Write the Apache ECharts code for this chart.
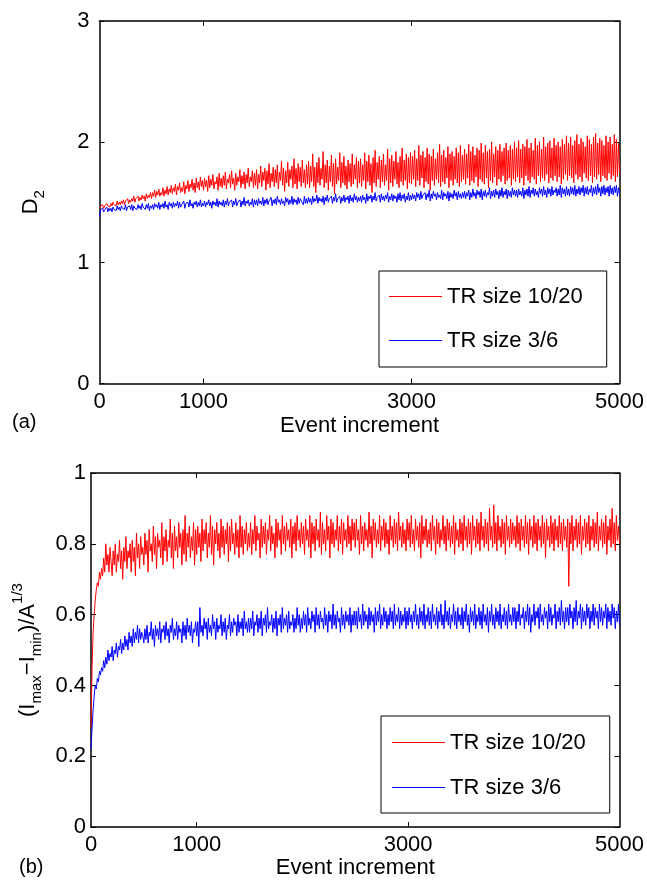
<!DOCTYPE html>
<html><head><meta charset="utf-8">
<script src="https://cdn.jsdelivr.net/npm/echarts@6/dist/echarts.min.js"></script>
<style>html,body{margin:0;padding:0;background:#fff}#c{width:647px;height:880px}</style>
</head><body><div id="c"></div>
<script>
// ---- data (one sample every STEP events) ----
const STEP = 10;
const xLabelValues = [0, 1000, 3000, 5000];
const xTickValues = [1000, 3000];
const seriesNames = ['TR size 10/20', 'TR size 3/6'];
const xAxisTitle = 'Event increment';

// panel (a): D2
const aRed = [
1.45,1.47,1.46,1.48,1.45,1.47,1.46,1.49,1.47,1.48,
1.46,1.49,1.47,1.50,1.48,1.49,1.47,1.51,1.48,1.50,
1.48,1.51,1.49,1.52,1.48,1.51,1.50,1.53,1.49,1.52,
1.50,1.53,1.51,1.55,1.50,1.53,1.52,1.55,1.51,1.54,
1.52,1.56,1.53,1.55,1.51,1.57,1.53,1.56,1.54,1.58,
1.53,1.58,1.55,1.60,1.54,1.59,1.56,1.61,1.55,1.58,
1.56,1.62,1.55,1.60,1.57,1.63,1.56,1.61,1.58,1.64,
1.57,1.62,1.59,1.65,1.56,1.63,1.60,1.66,1.58,1.62,
1.59,1.67,1.57,1.64,1.61,1.68,1.59,1.65,1.62,1.69,
1.60,1.66,1.58,1.70,1.62,1.67,1.60,1.71,1.63,1.68,
1.60,1.70,1.63,1.68,1.59,1.72,1.62,1.69,1.64,1.73,
1.61,1.67,1.65,1.71,1.60,1.74,1.63,1.70,1.62,1.72,
1.64,1.75,1.61,1.69,1.66,1.73,1.62,1.76,1.65,1.70,
1.60,1.74,1.64,1.71,1.67,1.77,1.62,1.72,1.65,1.75,
1.61,1.73,1.66,1.78,1.63,1.71,1.67,1.76,1.62,1.74,
1.64,1.77,1.61,1.73,1.66,1.80,1.63,1.75,1.68,1.78,
1.60,1.76,1.65,1.82,1.62,1.74,1.67,1.79,1.63,1.77,
1.66,1.81,1.61,1.75,1.68,1.84,1.64,1.78,1.59,1.76,
1.66,1.83,1.63,1.77,1.69,1.80,1.62,1.86,1.65,1.78,
1.61,1.82,1.67,1.79,1.63,1.85,1.66,1.77,1.62,1.81,
1.65,1.84,1.62,1.80,1.67,1.90,1.63,1.79,1.58,1.83,
1.66,1.87,1.64,1.78,1.69,1.92,1.62,1.81,1.66,1.85,
1.60,1.80,1.67,1.89,1.63,1.82,1.57,1.86,1.65,1.79,
1.68,1.91,1.62,1.83,1.66,1.88,1.64,1.80,1.61,1.85,
1.67,1.82,1.63,1.90,1.65,1.81,1.69,1.87,1.62,1.84,
1.66,1.86,1.63,1.81,1.68,1.91,1.61,1.84,1.67,1.89,
1.64,1.82,1.58,1.87,1.66,1.93,1.63,1.83,1.69,1.88,
1.62,1.85,1.67,1.90,1.64,1.81,1.68,1.94,1.60,1.86,
1.66,1.89,1.63,1.84,1.69,1.92,1.65,1.83,1.62,1.88,
1.67,1.95,1.64,1.85,1.68,1.90,1.61,1.87,1.66,1.91,
1.65,1.88,1.69,1.93,1.63,1.86,1.68,1.97,1.64,1.89,
1.70,1.92,1.62,1.87,1.67,1.95,1.65,1.90,1.60,1.88,
1.68,1.94,1.64,1.86,1.69,1.91,1.66,1.98,1.63,1.89,
1.67,1.93,1.65,1.87,1.70,1.96,1.62,1.90,1.68,1.92,
1.64,1.88,1.69,1.95,1.66,1.91,1.63,1.97,1.67,1.89,
1.69,1.94,1.65,1.90,1.70,1.98,1.64,1.92,1.68,1.96,
1.66,1.89,1.71,1.95,1.63,1.93,1.69,1.99,1.67,1.91,
1.65,1.97,1.70,1.92,1.62,1.94,1.68,2.00,1.66,1.90,
1.71,1.96,1.64,1.93,1.69,1.98,1.67,1.92,1.72,1.95,
1.65,1.99,1.68,1.93,1.70,1.97,1.64,1.94,1.69,2.00,
1.67,1.95,1.71,2.01,1.66,1.94,1.70,1.98,1.64,1.96,
1.72,2.02,1.68,1.95,1.66,1.99,1.71,1.93,1.69,2.03,
1.65,1.97,1.72,2.00,1.67,1.94,1.70,2.04,1.68,1.96,
1.73,1.99,1.66,2.01,1.70,1.95,1.68,2.03,1.72,1.97,
1.67,2.00,1.71,1.96,1.65,2.02,1.69,1.98,1.73,2.05,
1.68,1.99,1.72,2.04,1.70,1.97,1.66,2.01,1.73,2.06,
1.69,1.98,1.71,2.03,1.67,2.00,1.74,1.96,1.70,2.05,
1.68,2.02,1.72,1.98,1.66,2.04,1.71,2.07,1.69,1.99,
1.73,2.03,1.67,2.01,1.72,1.97,1.70,2.05,1.68,2.00,
1.74,2.04,1.69,1.98,1.72,2.06,1.67,2.02,1.71,1.99,1.75
];
const aBlue = [
1.38,1.44,1.43,1.45,1.42,1.44,1.43,1.46,1.42,1.45,
1.43,1.45,1.42,1.46,1.44,1.45,1.43,1.47,1.44,1.46,
1.43,1.47,1.45,1.46,1.44,1.48,1.43,1.46,1.45,1.47,
1.44,1.48,1.43,1.47,1.45,1.46,1.44,1.48,1.45,1.47,
1.44,1.49,1.46,1.47,1.44,1.48,1.45,1.49,1.43,1.47,
1.45,1.48,1.44,1.49,1.46,1.48,1.45,1.50,1.44,1.48,
1.46,1.49,1.45,1.51,1.46,1.48,1.44,1.50,1.47,1.49,
1.45,1.50,1.46,1.49,1.47,1.51,1.45,1.50,1.46,1.48,
1.47,1.51,1.45,1.49,1.48,1.50,1.46,1.52,1.47,1.49,
1.45,1.50,1.48,1.51,1.46,1.50,1.47,1.52,1.46,1.49,
1.47,1.51,1.46,1.50,1.48,1.52,1.47,1.50,1.45,1.51,
1.48,1.50,1.47,1.53,1.46,1.51,1.48,1.50,1.47,1.52,
1.46,1.51,1.48,1.53,1.47,1.50,1.49,1.52,1.46,1.51,
1.48,1.53,1.47,1.50,1.49,1.52,1.46,1.51,1.48,1.54,
1.47,1.51,1.49,1.52,1.47,1.50,1.48,1.53,1.46,1.52,
1.48,1.52,1.47,1.53,1.49,1.51,1.48,1.54,1.47,1.52,
1.49,1.53,1.48,1.51,1.50,1.54,1.47,1.52,1.49,1.53,
1.48,1.55,1.50,1.52,1.48,1.53,1.49,1.51,1.47,1.54,
1.50,1.53,1.48,1.52,1.49,1.55,1.48,1.53,1.50,1.52,
1.48,1.54,1.49,1.53,1.51,1.52,1.48,1.55,1.49,1.53,
1.49,1.54,1.50,1.53,1.48,1.55,1.50,1.53,1.51,1.56,
1.49,1.54,1.51,1.53,1.50,1.55,1.48,1.54,1.51,1.56,
1.50,1.53,1.52,1.55,1.49,1.54,1.51,1.57,1.50,1.53,
1.52,1.55,1.49,1.54,1.51,1.56,1.50,1.54,1.52,1.55,
1.49,1.56,1.51,1.54,1.50,1.57,1.52,1.55,1.50,1.54,
1.51,1.55,1.50,1.56,1.52,1.54,1.49,1.57,1.51,1.55,
1.53,1.56,1.50,1.55,1.52,1.58,1.51,1.54,1.53,1.56,
1.50,1.57,1.52,1.55,1.51,1.56,1.53,1.58,1.50,1.55,
1.52,1.57,1.51,1.56,1.53,1.55,1.50,1.57,1.52,1.58,
1.51,1.56,1.53,1.57,1.50,1.55,1.52,1.58,1.51,1.56,
1.52,1.57,1.53,1.56,1.51,1.58,1.54,1.57,1.52,1.59,
1.53,1.56,1.55,1.58,1.52,1.57,1.54,1.60,1.51,1.57,
1.53,1.59,1.55,1.57,1.52,1.58,1.54,1.56,1.53,1.60,
1.52,1.58,1.55,1.57,1.53,1.59,1.51,1.58,1.54,1.57,
1.53,1.60,1.55,1.58,1.52,1.59,1.54,1.57,1.53,1.58,
1.54,1.59,1.53,1.58,1.55,1.60,1.52,1.58,1.54,1.61,
1.55,1.58,1.53,1.60,1.56,1.59,1.54,1.61,1.52,1.59,
1.55,1.60,1.54,1.58,1.56,1.62,1.53,1.59,1.55,1.60,
1.54,1.61,1.56,1.59,1.53,1.60,1.55,1.62,1.54,1.59,
1.56,1.61,1.53,1.60,1.55,1.59,1.54,1.62,1.56,1.60,
1.55,1.60,1.54,1.61,1.56,1.59,1.55,1.62,1.53,1.60,
1.56,1.61,1.55,1.63,1.54,1.60,1.57,1.62,1.55,1.61,
1.56,1.59,1.54,1.62,1.57,1.61,1.55,1.63,1.56,1.60,
1.54,1.62,1.57,1.61,1.55,1.63,1.56,1.60,1.58,1.62,
1.55,1.61,1.56,1.64,1.54,1.62,1.57,1.61,1.55,1.63,
1.56,1.61,1.55,1.63,1.57,1.62,1.56,1.64,1.55,1.61,
1.57,1.63,1.56,1.62,1.58,1.64,1.55,1.62,1.57,1.63,
1.56,1.61,1.58,1.64,1.55,1.62,1.57,1.63,1.56,1.65,
1.58,1.62,1.55,1.63,1.57,1.64,1.56,1.62,1.58,1.63,
1.55,1.64,1.57,1.62,1.56,1.63,1.58,1.64,1.55,1.62,1.57
];

// panel (b): (Imax - Imin)/A^(1/3)
const bRed = [
0.28,0.45,0.55,0.60,0.64,0.67,0.69,0.68,0.72,0.70,
0.73,0.71,0.76,0.72,0.80,0.74,0.77,0.72,0.79,0.75,
0.71,0.78,0.74,0.80,0.72,0.77,0.75,0.81,0.73,0.78,
0.70,0.79,0.75,0.82,0.73,0.78,0.76,0.80,0.72,0.81,
0.75,0.79,0.71,0.83,0.76,0.80,0.73,0.82,0.77,0.79,
0.74,0.83,0.77,0.81,0.72,0.84,0.78,0.80,0.75,0.85,
0.77,0.82,0.73,0.83,0.79,0.81,0.76,0.86,0.74,0.82,
0.78,0.84,0.75,0.81,0.79,0.87,0.76,0.83,0.73,0.85,
0.78,0.82,0.76,0.86,0.79,0.83,0.74,0.84,0.77,0.88,
0.75,0.83,0.79,0.85,0.76,0.82,0.78,0.86,0.74,0.84,
0.77,0.85,0.79,0.83,0.75,0.87,0.78,0.84,0.80,0.86,
0.76,0.83,0.79,0.88,0.77,0.85,0.74,0.84,0.80,0.86,
0.78,0.83,0.76,0.87,0.79,0.85,0.77,0.84,0.80,0.86,
0.75,0.85,0.78,0.87,0.80,0.83,0.77,0.86,0.79,0.84,
0.76,0.88,0.79,0.85,0.77,0.84,0.80,0.86,0.78,0.83,
0.79,0.86,0.77,0.84,0.80,0.88,0.78,0.85,0.81,0.83,
0.76,0.87,0.79,0.85,0.80,0.86,0.77,0.84,0.81,0.88,
0.78,0.85,0.80,0.83,0.76,0.87,0.79,0.86,0.81,0.84,
0.77,0.88,0.80,0.85,0.78,0.86,0.81,0.84,0.79,0.87,
0.76,0.85,0.80,0.86,0.78,0.88,0.81,0.84,0.79,0.86,
0.80,0.85,0.77,0.87,0.81,0.84,0.79,0.88,0.76,0.86,
0.80,0.85,0.78,0.87,0.81,0.84,0.79,0.89,0.77,0.86,
0.80,0.84,0.78,0.88,0.81,0.85,0.76,0.87,0.80,0.86,
0.79,0.84,0.81,0.88,0.78,0.85,0.80,0.87,0.77,0.86,
0.81,0.84,0.79,0.88,0.80,0.85,0.78,0.87,0.81,0.86,
0.79,0.87,0.81,0.84,0.77,0.88,0.80,0.85,0.78,0.86,
0.81,0.84,0.79,0.89,0.80,0.85,0.76,0.87,0.81,0.86,
0.79,0.84,0.80,0.88,0.78,0.85,0.81,0.87,0.79,0.86,
0.80,0.84,0.77,0.88,0.81,0.85,0.79,0.87,0.80,0.86,
0.78,0.89,0.81,0.85,0.79,0.86,0.80,0.84,0.78,0.87,
0.81,0.86,0.79,0.88,0.80,0.84,0.78,0.87,0.81,0.85,
0.79,0.86,0.76,0.88,0.80,0.85,0.81,0.87,0.79,0.84,
0.80,0.86,0.78,0.88,0.81,0.85,0.77,0.87,0.80,0.86,
0.79,0.84,0.81,0.88,0.80,0.85,0.78,0.87,0.81,0.86,
0.79,0.85,0.80,0.88,0.77,0.86,0.81,0.84,0.79,0.87,
0.80,0.86,0.78,0.88,0.81,0.85,0.79,0.87,0.80,0.86,
0.77,0.88,0.81,0.85,0.79,0.87,0.80,0.86,0.78,0.89,
0.81,0.85,0.79,0.87,0.80,0.86,0.78,0.90,0.81,0.85,
0.79,0.91,0.80,0.86,0.78,0.88,0.81,0.85,0.79,0.87,
0.80,0.86,0.77,0.88,0.81,0.85,0.79,0.87,0.80,0.86,
0.81,0.85,0.79,0.88,0.80,0.86,0.78,0.87,0.81,0.85,
0.79,0.88,0.80,0.86,0.77,0.87,0.81,0.85,0.79,0.88,
0.80,0.86,0.78,0.87,0.81,0.85,0.79,0.88,0.80,0.86,
0.76,0.87,0.81,0.85,0.79,0.88,0.80,0.86,0.78,0.87,
0.81,0.85,0.79,0.88,0.80,0.86,0.78,0.87,0.81,0.85,
0.79,0.87,0.68,0.86,0.80,0.88,0.78,0.85,0.81,0.87,
0.79,0.86,0.80,0.88,0.77,0.85,0.81,0.87,0.79,0.86,
0.80,0.88,0.78,0.85,0.81,0.87,0.79,0.86,0.80,0.89,
0.78,0.85,0.81,0.87,0.79,0.86,0.80,0.88,0.77,0.85,
0.81,0.87,0.79,0.90,0.80,0.86,0.78,0.88,0.81,0.85,0.80
];
const bBlue = [
0.22,0.28,0.33,0.37,0.40,0.39,0.42,0.41,0.44,0.43,
0.45,0.44,0.47,0.45,0.48,0.46,0.50,0.47,0.49,0.48,
0.51,0.47,0.50,0.49,0.52,0.48,0.51,0.50,0.53,0.49,
0.52,0.50,0.54,0.51,0.53,0.50,0.55,0.52,0.54,0.51,
0.56,0.52,0.55,0.53,0.57,0.52,0.56,0.53,0.55,0.54,
0.52,0.56,0.53,0.57,0.52,0.55,0.54,0.58,0.53,0.56,
0.51,0.57,0.54,0.56,0.53,0.58,0.52,0.56,0.55,0.57,
0.53,0.58,0.54,0.56,0.52,0.57,0.55,0.59,0.53,0.56,
0.54,0.58,0.53,0.57,0.55,0.56,0.52,0.58,0.54,0.57,
0.53,0.59,0.55,0.57,0.54,0.58,0.52,0.56,0.55,0.58,
0.54,0.58,0.51,0.62,0.55,0.57,0.54,0.59,0.56,0.58,
0.53,0.59,0.55,0.57,0.54,0.60,0.56,0.58,0.53,0.59,
0.55,0.57,0.56,0.60,0.54,0.58,0.55,0.59,0.53,0.57,
0.56,0.60,0.54,0.58,0.55,0.59,0.57,0.58,0.54,0.60,
0.55,0.58,0.56,0.59,0.54,0.61,0.56,0.58,0.55,0.59,
0.55,0.59,0.56,0.61,0.54,0.58,0.57,0.60,0.55,0.59,
0.56,0.61,0.54,0.59,0.57,0.60,0.55,0.62,0.56,0.58,
0.57,0.60,0.55,0.59,0.56,0.61,0.54,0.59,0.57,0.60,
0.55,0.62,0.56,0.59,0.57,0.60,0.55,0.61,0.56,0.58,
0.57,0.60,0.55,0.59,0.56,0.62,0.57,0.60,0.55,0.59,
0.56,0.61,0.57,0.60,0.55,0.62,0.57,0.59,0.56,0.61,
0.58,0.60,0.55,0.62,0.57,0.60,0.56,0.61,0.58,0.59,
0.56,0.62,0.57,0.60,0.55,0.61,0.58,0.60,0.56,0.63,
0.57,0.60,0.56,0.61,0.58,0.59,0.55,0.62,0.57,0.60,
0.56,0.61,0.58,0.60,0.57,0.62,0.55,0.60,0.57,0.61,
0.57,0.61,0.56,0.62,0.58,0.60,0.56,0.63,0.57,0.61,
0.58,0.60,0.56,0.62,0.57,0.61,0.58,0.60,0.55,0.62,
0.57,0.61,0.58,0.63,0.56,0.60,0.57,0.62,0.58,0.61,
0.56,0.60,0.57,0.62,0.58,0.61,0.56,0.63,0.57,0.60,
0.58,0.62,0.56,0.61,0.57,0.60,0.58,0.62,0.56,0.61,
0.57,0.62,0.58,0.60,0.56,0.61,0.58,0.63,0.57,0.60,
0.56,0.62,0.58,0.61,0.57,0.63,0.56,0.60,0.58,0.62,
0.57,0.61,0.56,0.63,0.58,0.60,0.57,0.62,0.56,0.61,
0.58,0.63,0.57,0.60,0.56,0.64,0.58,0.61,0.57,0.62,
0.56,0.60,0.58,0.63,0.57,0.61,0.56,0.62,0.58,0.60,
0.57,0.62,0.56,0.61,0.58,0.63,0.57,0.60,0.55,0.62,
0.58,0.61,0.57,0.63,0.56,0.60,0.58,0.62,0.57,0.61,
0.56,0.63,0.58,0.60,0.57,0.62,0.55,0.61,0.58,0.63,
0.57,0.60,0.56,0.62,0.58,0.61,0.57,0.63,0.56,0.60,
0.58,0.62,0.57,0.61,0.56,0.63,0.58,0.60,0.57,0.62,
0.58,0.62,0.56,0.61,0.58,0.63,0.57,0.60,0.59,0.62,
0.56,0.61,0.58,0.63,0.57,0.62,0.55,0.60,0.58,0.63,
0.57,0.61,0.59,0.62,0.56,0.63,0.58,0.60,0.57,0.62,
0.59,0.61,0.56,0.63,0.58,0.62,0.57,0.60,0.59,0.63,
0.56,0.61,0.58,0.62,0.57,0.64,0.58,0.61,0.56,0.62,
0.58,0.62,0.57,0.63,0.59,0.61,0.56,0.62,0.58,0.64,
0.57,0.61,0.59,0.63,0.56,0.62,0.58,0.61,0.57,0.63,
0.59,0.62,0.56,0.61,0.58,0.63,0.57,0.62,0.59,0.61,
0.56,0.63,0.58,0.62,0.57,0.61,0.59,0.63,0.56,0.62,
0.58,0.61,0.57,0.63,0.59,0.62,0.56,0.61,0.58,0.63,0.57
];

// ---- chart ----
const FONT = '"Liberation Sans", Arial, Helvetica, sans-serif';
const COLORS = ['#ff0000', '#0000ff'];
function pts(arr) { return arr.map((v, i) => [i * STEP, v]); }

function xAxisDef(grid, pos, main, nameGap) {
  return {
    type: 'value', gridIndex: grid, position: pos, min: 0, max: 5000,
    axisLine: { show: true, onZero: false, lineStyle: { color: '#000', width: 1.5 } },
    axisTick: { show: true, inside: true, length: 5, customValues: xTickValues, lineStyle: { color: '#000', width: 1 } },
    axisLabel: { show: main, customValues: xLabelValues, color: '#000', fontSize: 22, fontFamily: FONT, margin: 7,
      formatter: function (v) { return String(v); } },
    splitLine: { show: false },
    name: main ? xAxisTitle : '', nameLocation: 'middle', nameGap: nameGap,
    nameTextStyle: { color: '#000', fontSize: 22, fontFamily: FONT }
  };
}
function yAxisDef(grid, pos, main, max, interval, name, nameGap, margin) {
  return {
    type: 'value', gridIndex: grid, position: pos, min: 0, max: max, interval: interval,
    axisLine: { show: true, onZero: false, lineStyle: { color: '#000', width: 1.5 } },
    axisTick: { show: true, inside: true, length: 5, lineStyle: { color: '#000', width: 1 } },
    axisLabel: { show: main, color: '#000', fontSize: 22, fontFamily: FONT, margin: margin },
    splitLine: { show: false },
    name: main ? name : '', nameLocation: 'middle', nameGap: nameGap,
    nameTextStyle: {
      color: '#000', fontSize: 22, fontFamily: FONT,
      rich: {
        n: { fontSize: 22, fontFamily: FONT, color: '#000', lineHeight: 34, verticalAlign: 'middle' },
        s: { fontSize: 15, fontFamily: FONT, color: '#000', verticalAlign: 'bottom' },
        p: { fontSize: 15, fontFamily: FONT, color: '#000', verticalAlign: 'top' }
      }
    }
  };
}
function legendDef(left, top, pad, gap) {
  return {
    data: seriesNames.map(function (n) { return { name: n, icon: 'rect' }; }),
    orient: 'vertical', left: left, top: top, padding: pad,
    itemGap: gap, itemWidth: 53, itemHeight: 1.2, selectedMode: false,
    borderColor: '#000', borderWidth: 1, backgroundColor: '#fff',
    textStyle: { color: '#000', fontSize: 22, fontFamily: FONT }
  };
}
function lineSeries(name, color, xi, yi, data) {
  return {
    type: 'line', name: name, xAxisIndex: xi, yAxisIndex: yi, data: pts(data),
    symbol: 'none', showSymbol: false, color: color, sampling: null,
    lineStyle: { color: color, width: 1 }, animation: false
  };
}

const chart = echarts.init(document.getElementById('c'), null, { renderer: 'canvas' });
chart.setOption({
  animation: false,
  backgroundColor: '#fff',
  textStyle: { fontFamily: FONT },
  grid: [
    { left: 99.5, top: 21, width: 520.5, height: 362.5 },
    { left: 91, top: 473, width: 530, height: 355 }
  ],
  xAxis: [
    xAxisDef(0, 'bottom', true, 31),
    xAxisDef(0, 'top', false, 0),
    xAxisDef(1, 'bottom', true, 28),
    xAxisDef(1, 'top', false, 0)
  ],
  yAxis: [
    yAxisDef(0, 'left', true, 3, 1, '{n|D}{s|2}', 52, 10),
    yAxisDef(0, 'right', false, 3, 1, '', 0, 5),
    yAxisDef(1, 'left', true, 1, 0.2, '{n|(I}{s|max}{n|\u2212I}{s|min}{n|)/A}{p|1/3}', 46, 5),
    yAxisDef(1, 'right', false, 1, 0.2, '', 0, 5)
  ],
  legend: [
    legendDef(379, 271, [14.5, 24, 15.5, 10], 22),
    legendDef(381, 716, [15.5, 24, 14.5, 11], 23)
  ],
  graphic: [
    { type: 'text', left: 12, top: 412, style: { text: '(a)', fill: '#000', font: '20px ' + FONT } },
    { type: 'text', left: 19, top: 857, style: { text: '(b)', fill: '#000', font: '20px ' + FONT } }
  ],
  series: [
    lineSeries(seriesNames[0], COLORS[0], 0, 0, aRed),
    lineSeries(seriesNames[1], COLORS[1], 0, 0, aBlue),
    lineSeries(seriesNames[0], COLORS[0], 2, 2, bRed),
    lineSeries(seriesNames[1], COLORS[1], 2, 2, bBlue)
  ]
});
</script>
</body></html>
